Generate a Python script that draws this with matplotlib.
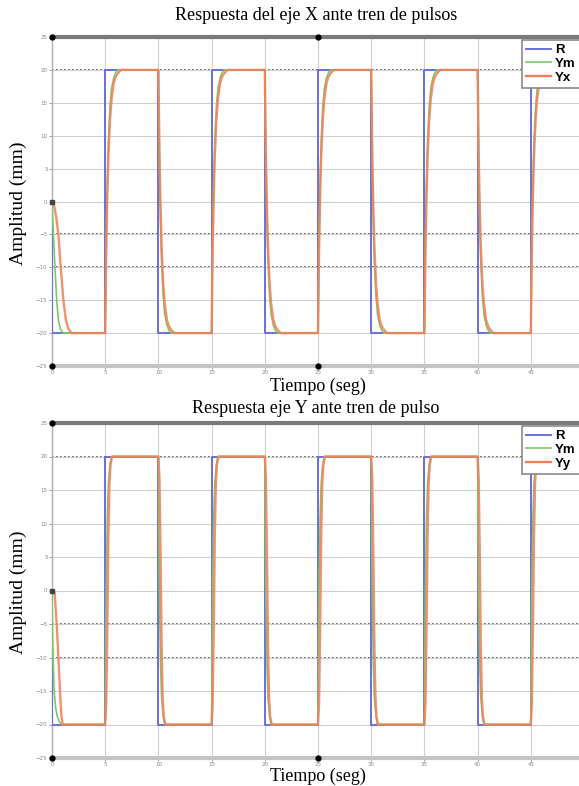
import numpy as np
import matplotlib
matplotlib.use("Agg")
import matplotlib.pyplot as plt
from matplotlib.lines import Line2D

# ---- data -------------------------------------------------------------
# reference pulse train (mm): starts at 0, switches every 5 s
edge_times = [0, 5, 10, 15, 20, 25, 30, 35, 40, 45]
ref_levels = [-20, 20, -20, 20, -20, 20, -20, 20, -20, 20]
ref_start = 0
t_end = 50

# step-response shapes: time after each edge (s) and fraction of the jump covered
# X axis: model output Ym
ym_x_first_dt = [0, 0.13, 0.28, 0.44, 0.6, 0.8, 1.05]
ym_x_first_fr = [0, 0.25, 0.50, 0.75, 0.90, 0.97, 1.0]
ym_x_dt = [0, 0.1, 0.2, 0.3, 0.45, 0.6, 0.8, 1.0, 1.2]
ym_x_fr = [0, 0.36, 0.58, 0.73, 0.86, 0.93, 0.97, 0.99, 1.0]
# X axis: measured output Yx
yx_first_dt = [0, 0.2, 0.4, 0.6, 0.82, 1.07, 1.3, 1.55, 1.85]
yx_first_fr = [0, 0.03, 0.12, 0.25, 0.50, 0.75, 0.90, 0.97, 1.0]
yx_dt = [0, 0.1, 0.2, 0.3, 0.45, 0.6, 0.8, 1.0, 1.25, 1.5]
yx_fr = [0, 0.31, 0.52, 0.67, 0.81, 0.89, 0.95, 0.975, 0.99, 1.0]

# Y axis: model output Ym
ym_y_first_dt = [0, 0.05, 0.1, 0.2, 0.35, 0.5, 0.7, 0.9]
ym_y_first_fr = [0, 0.30, 0.50, 0.75, 0.88, 0.94, 0.98, 1.0]
ym_y_dt = [0, 0.05, 0.1, 0.2, 0.3, 0.45, 0.6]
ym_y_fr = [0, 0.30, 0.52, 0.77, 0.90, 0.97, 1.0]
# Y axis: measured output Yy
yy_first_dt = [0, 0.25, 0.44, 0.6, 0.75, 0.88, 1.0]
yy_first_fr = [0, 0.02, 0.25, 0.50, 0.75, 0.93, 1.0]
yy_dt = [0, 0.1, 0.2, 0.3, 0.4, 0.5, 0.65]
yy_fr = [0, 0.08, 0.35, 0.70, 0.90, 0.97, 1.0]

x_ticks = [0, 5, 10, 15, 20, 25, 30, 35, 40, 45]
y_ticks = [-25, -20, -15, -10, -5, 0, 5, 10, 15, 20, 25]


def response(first_dt, first_fr, dt, fr):
    """Chain the read-off transition shapes along the pulse train."""
    t, y = [], []
    prev = ref_start
    for i, (t0, lvl) in enumerate(zip(edge_times, ref_levels)):
        sd, sf = (first_dt, first_fr) if i == 0 else (dt, fr)
        for d, f in zip(sd, sf):
            t.append(t0 + d)
            y.append(prev + (lvl - prev) * f)
        prev = lvl
    t.append(t_end)
    y.append(prev)
    return t, y


ref_t = [0] + edge_times + [t_end]
ref_y = [ref_start] + ref_levels + [ref_levels[-1]]

C_R = "#6c6fd8"
C_M = "#7cc96a"
C_O = "#f0825a"

W, H = 579, 786
fig = plt.figure(figsize=(W / 100, H / 100), dpi=100)
serif = ["Liberation Serif", "DejaVu Serif"]


def px_axes(left, top, right, bottom):
    return fig.add_axes([left / W, 1 - bottom / H, (right - left) / W, (bottom - top) / H])


def style_axes(ax):
    ax.set_xlim(0, 50)
    ax.set_ylim(-25, 25)
    ax.set_xticks(x_ticks)
    ax.set_yticks(y_ticks)
    ax.tick_params(labelsize=4, colors="#888888", length=2, width=0.6, pad=1.2)
    ax.grid(True, color="#cfcfcf", lw=0.8)
    ax.set_axisbelow(True)
    for yv in (20, -5, -10):
        ax.axhline(yv, color="#444444", lw=1.2, ls=(0, (1, 1.4)), zorder=0.5)
    ax.spines["top"].set_color("#7a7a7a")
    ax.spines["top"].set_linewidth(3)
    ax.spines["bottom"].set_color("#c4c4c4")
    ax.spines["bottom"].set_linewidth(3)
    ax.spines["left"].set_color("#b0b0b0")
    ax.spines["left"].set_linewidth(1)
    ax.spines["right"].set_visible(False)
    for xv, yv in ((0, 25), (0, -25), (25, -25)):
        ax.plot(xv, yv, "o", ms=3.5, color="black", clip_on=False, zorder=6)
    ax.plot(0, 0, "s", ms=3, color="#444444", clip_on=False, zorder=6)


def draw(ax, m, o, out_name, legend_top):
    ax.plot(ref_t, ref_y, drawstyle="steps-post", color=C_R, lw=1.4, zorder=3)
    ax.plot(*m, color=C_M, lw=1.2, zorder=3.5)
    ax.plot(*o, color=C_O, lw=1.7, alpha=0.88, zorder=4)
    handles = [Line2D([], [], color=C_R, lw=1.4),
               Line2D([], [], color=C_M, lw=1.2),
               Line2D([], [], color=C_O, lw=1.7)]
    leg = fig.legend(handles, ["R", "Ym", out_name], loc="upper left",
                     bbox_to_anchor=(522 / W, 1 - legend_top / H),
                     prop={"family": "Liberation Sans", "weight": "bold", "size": 9.5},
                     handlelength=1.9, handletextpad=0.3, labelspacing=0.12,
                     borderpad=0.3, borderaxespad=0, fancybox=False, framealpha=1)
    leg.get_frame().set_edgecolor("#8a8a8a")
    leg.get_frame().set_linewidth(1.2)


ax1 = px_axes(52, 37, 584, 366)
style_axes(ax1)
ax1.plot(25, 25, "o", ms=3.5, color="black", clip_on=False, zorder=6)
draw(ax1, response(ym_x_first_dt, ym_x_first_fr, ym_x_dt, ym_x_fr),
     response(yx_first_dt, yx_first_fr, yx_dt, yx_fr), "Yx", 40)

ax2 = px_axes(52, 423, 584, 758)
style_axes(ax2)
draw(ax2, response(ym_y_first_dt, ym_y_first_fr, ym_y_dt, ym_y_fr),
     response(yy_first_dt, yy_first_fr, yy_dt, yy_fr), "Yy", 426)

fs_title = 13
fs_xlabel = 13
fs_ylabel = 14
fig.text(316 / W, 1 - 16 / H, "Respuesta del eje X ante tren de pulsos",
         ha="center", va="center", family=serif, fontsize=fs_title)
fig.text(318 / W, 1 - 386 / H, "Tiempo (seg)", ha="center", va="center",
         family=serif, fontsize=fs_xlabel)
fig.text(316 / W, 1 - 409 / H, "Respuesta eje Y ante tren de pulso",
         ha="center", va="center", family=serif, fontsize=fs_title)
fig.text(318 / W, 1 - 776 / H, "Tiempo (seg)", ha="center", va="center",
         family=serif, fontsize=fs_xlabel)
fig.text(18 / W, 1 - 203 / H, "Amplitud (mm)", ha="center", va="center",
         rotation=90, family=serif, fontsize=fs_ylabel)
fig.text(18 / W, 1 - 592 / H, "Amplitud (mm)", ha="center", va="center",
         rotation=90, family=serif, fontsize=fs_ylabel)

fig.savefig("out.png", dpi=100)
